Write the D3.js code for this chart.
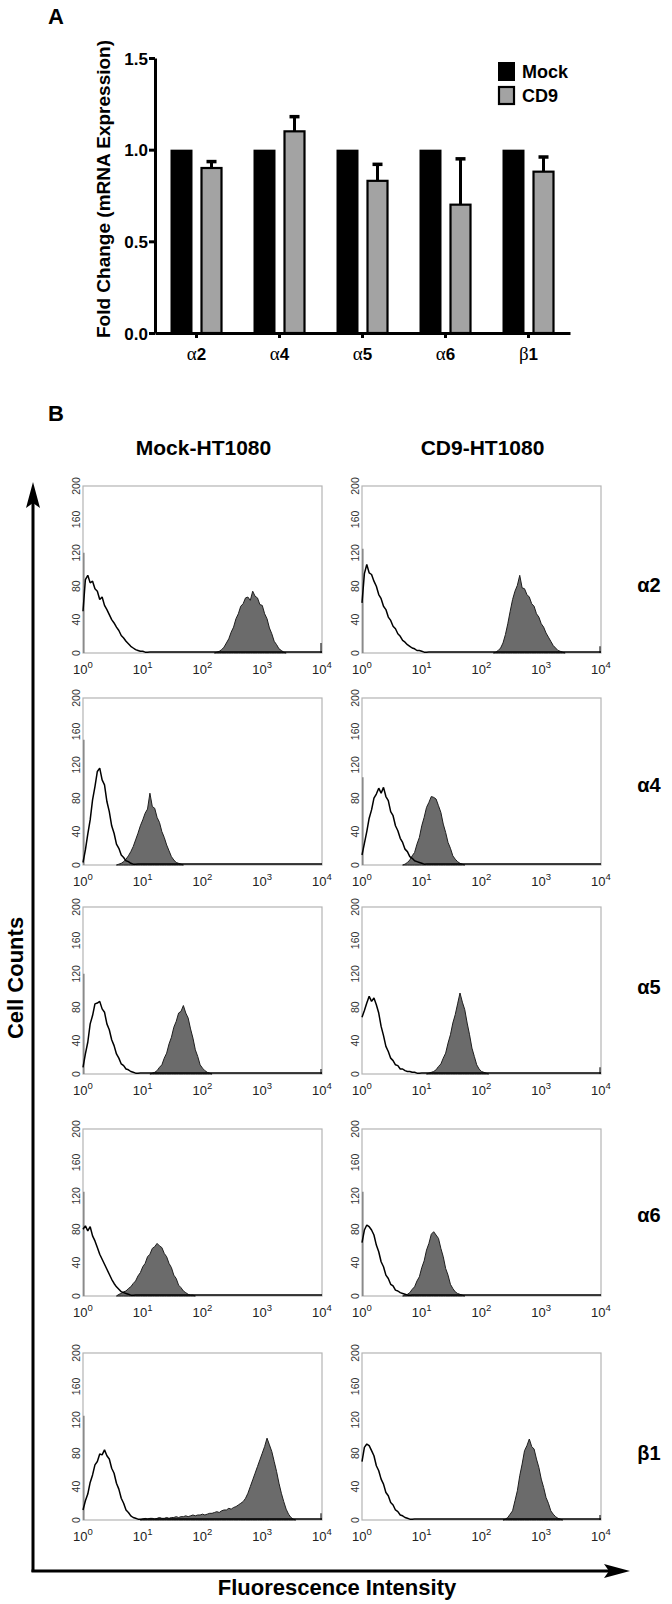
<!DOCTYPE html>
<html><head><meta charset="utf-8">
<script src="https://cdn.jsdelivr.net/npm/d3@7/dist/d3.min.js"></script>
<style>body{margin:0;background:#fff}svg{display:block}</style>
</head><body>
<svg id="c" width="672" height="1604"></svg>
<script>
// ---------------- Panel A data ----------------
const genes = ["α2", "α4", "α5", "α6", "β1"];
const seriesNames = ["Mock", "CD9"];
const mockFold = [1.0, 1.0, 1.0, 1.0, 1.0];
const cd9Fold = [0.90, 1.10, 0.83, 0.70, 0.88];
const cd9Err = [0.035, 0.08, 0.09, 0.25, 0.08];
const foldTicks = [0, 0.5, 1.0, 1.5];

// ---------------- Panel B data ----------------
const columns = ["Mock-HT1080", "CD9-HT1080"];
const countTicks = [0, 40, 80, 120, 160, 200];
const decadeTicks = [1, 10, 100, 1000, 10000];
const channelStep = 0.04; // log10 width of one histogram channel

// isotype control (open) histograms, counts from 10^0 upward
const mockOpenA2 = [50, 88, 93, 84, 86, 77, 74, 64, 67, 57, 52, 46, 40, 36, 31, 27, 21, 18, 14, 11, 8, 6, 4, 3, 2, 2, 1, 1];
const mockOpenA4 = [3, 18, 37, 54, 78, 94, 112, 116, 102, 96, 76, 64, 47, 38, 25, 20, 12, 9, 5, 4, 2, 1, 1];
const mockOpenA5 = [8, 24, 38, 60, 70, 84, 85, 87, 78, 74, 60, 53, 41, 34, 24, 19, 12, 10, 6, 5, 3, 2, 1, 1];
const mockOpenA6 = [80, 84, 78, 83, 72, 66, 58, 50, 44, 38, 32, 26, 20, 15, 11, 8, 5, 4, 3, 2, 1, 1];
const mockOpenB1 = [12, 23, 31, 45, 54, 66, 70, 79, 78, 84, 77, 73, 62, 56, 44, 37, 26, 20, 12, 9, 5, 3, 2, 1, 1];
const cd9OpenA2 = [60, 95, 106, 96, 94, 86, 80, 70, 65, 56, 52, 43, 39, 32, 29, 23, 20, 15, 13, 10, 8, 6, 5, 3, 3, 2, 1, 1];
const cd9OpenA4 = [12, 26, 40, 56, 66, 80, 85, 92, 86, 93, 82, 77, 64, 59, 47, 41, 32, 27, 19, 16, 10, 8, 5, 4, 3, 2, 1];
const cd9OpenA5 = [68, 76, 85, 93, 87, 91, 83, 73, 57, 46, 33, 27, 19, 16, 11, 10, 6, 6, 4, 3, 3, 2, 2, 1, 1];
const cd9OpenA6 = [64, 79, 85, 83, 79, 73, 61, 53, 41, 35, 25, 21, 14, 12, 7, 6, 4, 3, 2, 1, 1];
const cd9OpenB1 = [70, 87, 91, 89, 83, 77, 65, 59, 49, 43, 33, 29, 21, 18, 12, 10, 6, 5, 3, 2, 1, 1];

// integrin-stained (filled) histograms, counts from fillStart upward
const mockFillA2 = [1, 2, 4, 7, 12, 17, 25, 31, 41, 47, 56, 59, 66, 67, 63, 74, 68, 66, 58, 57, 47, 41, 30, 23, 14, 10, 5, 3, 1];
const mockFillA4 = [1, 2, 4, 7, 11, 16, 22, 30, 38, 47, 54, 62, 67, 86, 70, 68, 57, 51, 40, 33, 24, 17, 10, 6, 3, 2, 1];
const mockFillA5 = [1, 2, 4, 8, 11, 19, 25, 36, 44, 56, 63, 73, 75, 82, 73, 67, 54, 43, 29, 21, 11, 7, 4, 2, 1];
const mockFillA6 = [2, 3, 5, 6, 9, 11, 15, 18, 24, 28, 35, 39, 47, 50, 57, 59, 63, 60, 58, 51, 47, 39, 34, 25, 21, 13, 10, 6, 4, 2, 1, 1];
const mockFillB1 = [1, 2, 1, 2, 2, 1, 2, 3, 2, 2, 3, 2, 3, 3, 4, 3, 4, 4, 5, 4, 5, 6, 5, 6, 6,
  7, 6, 7, 8, 8, 9, 10, 9, 11, 12, 12, 14, 13, 15, 16, 18, 20,
  22, 26, 32, 40, 48, 56, 64, 72, 80, 88, 98, 90, 82,
  70, 58, 44, 32, 22, 13, 7, 3, 1];
const cd9FillA2 = [1, 3, 6, 12, 22, 35, 50, 64, 74, 81, 93, 78, 77, 70, 67, 59, 56, 47, 43, 35, 31, 24, 19, 14, 9, 6, 3, 2, 1];
const cd9FillA4 = [1, 3, 6, 11, 15, 25, 33, 47, 57, 69, 75, 82, 81, 79, 71, 63, 49, 39, 27, 20, 11, 7, 4, 2, 1];
const cd9FillA5 = [1, 2, 3, 5, 9, 12, 19, 25, 37, 47, 61, 71, 84, 97, 86, 77, 61, 47, 31, 21, 11, 6, 3, 2, 1];
const cd9FillA6 = [1, 2, 4, 8, 11, 18, 23, 34, 42, 55, 63, 74, 77, 73, 69, 57, 47, 33, 25, 14, 9, 5, 3, 2, 1];
const cd9FillB1 = [1, 3, 7, 11, 23, 35, 53, 67, 83, 89, 97, 88, 85, 73, 63, 49, 39, 27, 20, 11, 7, 4, 2, 1];

const fillStartMock = [2.24, 0.60, 1.16, 0.60, 1.00];   // log10 of first channel
const fillStartCD9 = [2.24, 0.72, 1.12, 0.72, 2.40];
const firstChannelMock = [120, 150, 120, 125, 125];      // off-scale pile-up at 10^0
const firstChannelCD9 = [125, 105, 0, 125, 0];
const lastChannelMock = [12, 0, 6, 0, 8];                // off-scale pile-up at 10^4
const lastChannelCD9 = [8, 0, 8, 0, 6];

const mockOpen = [mockOpenA2, mockOpenA4, mockOpenA5, mockOpenA6, mockOpenB1];
const cd9Open = [cd9OpenA2, cd9OpenA4, cd9OpenA5, cd9OpenA6, cd9OpenB1];
const mockFill = [mockFillA2, mockFillA4, mockFillA5, mockFillA6, mockFillB1];
const cd9Fill = [cd9FillA2, cd9FillA4, cd9FillA5, cd9FillA6, cd9FillB1];

// ---------------- drawing ----------------
const svg = d3.select("#c");
const SANS = "'Liberation Sans', Arial, Helvetica, sans-serif";
const SERIF = "'Liberation Serif', 'Times New Roman', serif";

// ===== Panel A =====
svg.append("text").attr("x", 48).attr("y", 24).attr("font-family", SANS)
  .attr("font-weight", "bold").attr("font-size", 22).text("A");

const yA = d3.scaleLinear().domain([0, 1.5]).range([333, 58]);
const xA = d3.scaleBand().domain(genes).range([155, 570]);
const xIn = d3.scaleBand().domain(seriesNames).range([-26, 26]).paddingInner(0.267);
const colorA = d3.scaleOrdinal().domain(seriesNames).range(["#000000", "#a3a3a3"]);

const barRows = genes.map((g, i) => ({ gene: g, vals: [
  { s: "Mock", v: mockFold[i], e: 0 },
  { s: "CD9", v: cd9Fold[i], e: cd9Err[i] }] }));

const gA = svg.append("g");
const grp = gA.selectAll("g.grp").data(barRows).join("g")
  .attr("transform", d => `translate(${xA(d.gene) + xA.bandwidth() / 2},0)`);

grp.each(function (d) {
  const c = d.vals[1];
  const cx = xIn("CD9") + xIn.bandwidth() / 2;
  const g = d3.select(this);
  g.append("line").attr("x1", cx).attr("x2", cx).attr("y1", yA(c.v)).attr("y2", yA(c.v + c.e))
    .attr("stroke", "#000").attr("stroke-width", 3);
  g.append("line").attr("x1", cx - 5).attr("x2", cx + 5).attr("y1", yA(c.v + c.e)).attr("y2", yA(c.v + c.e))
    .attr("stroke", "#000").attr("stroke-width", 3.5);
});
grp.selectAll("rect").data(d => d.vals).join("rect")
  .attr("x", d => xIn(d.s) + (d.s === "CD9" ? 1 : 0))
  .attr("width", d => xIn.bandwidth() - (d.s === "CD9" ? 2 : 0))
  .attr("y", d => yA(d.v))
  .attr("height", d => yA(0) - yA(d.v))
  .attr("fill", d => colorA(d.s))
  .attr("stroke", d => d.s === "CD9" ? "#000" : "none")
  .attr("stroke-width", 2.2);

const axY = gA.append("g").attr("transform", "translate(155,0)")
  .call(d3.axisLeft(yA).tickValues(foldTicks).tickFormat(d3.format(".1f")).tickSize(6).tickSizeOuter(0));
axY.select(".domain").attr("stroke-width", 3);
axY.selectAll(".tick line").attr("stroke-width", 3);
axY.selectAll(".tick text").attr("font-family", SANS).attr("font-weight", "bold").attr("font-size", 17).attr("x", -7).attr("dy", "0.36em");

const axX = gA.append("g").attr("transform", "translate(0,333)")
  .call(d3.axisBottom(xA).tickSize(5).tickSizeOuter(0));
axX.select(".domain").attr("stroke-width", 3);
axX.selectAll(".tick line").attr("stroke-width", 3);
axX.selectAll(".tick text").remove();
axX.selectAll(".tick").append("text").attr("y", 27).attr("text-anchor", "middle").attr("fill", "#000")
  .each(function (d) {
    const t = d3.select(this);
    t.append("tspan").attr("font-family", SERIF).attr("font-size", 19).text(d.charAt(0));
    t.append("tspan").attr("font-family", SANS).attr("font-weight", "bold").attr("font-size", 17).text(d.slice(1));
  });

svg.append("text").attr("transform", "translate(110,189) rotate(-90)").attr("text-anchor", "middle")
  .attr("font-family", SANS).attr("font-weight", "bold").attr("font-size", 19)
  .text("Fold Change (mRNA Expression)");

const leg = svg.append("g").attr("transform", "translate(498,62)");
seriesNames.forEach((s, i) => {
  const r = leg.append("rect").attr("y", i * 24).attr("width", 17).attr("height", 19).attr("fill", colorA(s));
  if (s === "CD9") r.attr("x", 1).attr("y", i * 24 + 1).attr("width", 15).attr("height", 17).attr("stroke", "#000").attr("stroke-width", 2.2);
  leg.append("text").attr("x", 24).attr("y", i * 24 + 16).attr("font-family", SANS).attr("font-weight", "bold")
    .attr("font-size", 18).text(s);
});

// ===== Panel B =====
svg.append("text").attr("x", 48).attr("y", 421).attr("font-family", SANS)
  .attr("font-weight", "bold").attr("font-size", 22).text("B");

const colLeft = [83, 362];
const plotW = 239;
const rowTop = [486, 698, 907, 1129, 1353];
const plotH = 167;
const rowLabelY = [592, 792, 994, 1222, 1460];

columns.forEach((c, j) => {
  svg.append("text").attr("x", colLeft[j] + plotW / 2 + 1).attr("y", 455).attr("text-anchor", "middle")
    .attr("font-family", SANS).attr("font-weight", "bold").attr("font-size", 21).text(c);
});

const panels = [];
genes.forEach((g, i) => {
  panels.push({ row: i, col: 0, open: mockOpen[i], fill: mockFill[i], fs: fillStartMock[i], first: firstChannelMock[i], last: lastChannelMock[i] });
  panels.push({ row: i, col: 1, open: cd9Open[i], fill: cd9Fill[i], fs: fillStartCD9[i], first: firstChannelCD9[i], last: lastChannelCD9[i] });
});

panels.forEach(p => {
  const L = colLeft[p.col], T = rowTop[p.row], B = T + plotH;
  const x = d3.scaleLog().domain([1, 10000]).range([L, L + plotW]);
  const y = d3.scaleLinear().domain([0, 200]).range([B, T]);
  const g = svg.append("g");

  g.append("rect").attr("x", L).attr("y", T).attr("width", plotW).attr("height", plotH)
    .attr("fill", "none").attr("stroke", "#b4b4b4").attr("stroke-width", 1.2);

  const fPts = p.fill.map((c, k) => [Math.pow(10, p.fs + k * channelStep), c]);
  const fAll = [[Math.pow(10, p.fs - channelStep), 0], ...fPts, [Math.pow(10, p.fs + p.fill.length * channelStep), 0]];
  g.append("path").datum(fAll)
    .attr("d", d3.area().x(d => x(d[0])).y0(B).y1(d => y(d[1])))
    .attr("fill", "#6b6b6b").attr("stroke", "#1e1e1e").attr("stroke-width", 1).attr("stroke-linejoin", "bevel");

  if (p.first > 0) g.append("line").attr("x1", L + 0.8).attr("x2", L + 0.8).attr("y1", B).attr("y2", y(p.first))
    .attr("stroke", "#8a8a8a").attr("stroke-width", 1.6);
  if (p.last > 0) g.append("line").attr("x1", L + plotW - 1).attr("x2", L + plotW - 1).attr("y1", B).attr("y2", y(p.last))
    .attr("stroke", "#222").attr("stroke-width", 1.2);

  const oPts = p.open.map((c, k) => [Math.pow(10, k * channelStep), c]);
  const oAll = [...oPts, [Math.pow(10, p.open.length * channelStep), 0], [10000, 0]];
  g.append("path").datum(oAll)
    .attr("d", d3.line().x(d => x(d[0])).y(d => y(d[1]) - (d[1] === 0 ? 1 : 0)))
    .attr("fill", "none").attr("stroke", "#000").attr("stroke-width", 1.5).attr("stroke-linejoin", "bevel");

  g.selectAll("text.yt").data(countTicks).join("text").attr("class", "yt")
    .attr("transform", d => `translate(${L - 3},${y(d)}) rotate(-90)`)
    .attr("text-anchor", "middle").attr("font-family", SANS).attr("font-size", 10.5).attr("fill", "#333")
    .text(d => d);

  g.selectAll("text.xt").data(decadeTicks).join("text").attr("class", "xt")
    .attr("x", d => x(d)).attr("y", B + 21).attr("text-anchor", "middle")
    .attr("font-family", SANS).attr("font-size", 13).attr("fill", "#222")
    .each(function (d) {
      const t = d3.select(this);
      t.append("tspan").text("10");
      t.append("tspan").attr("font-size", 9.5).attr("dy", -6).text(Math.round(Math.log10(d)));
    });
});

genes.forEach((g, i) => {
  svg.append("text").attr("x", 649).attr("y", rowLabelY[i]).attr("text-anchor", "middle")
    .attr("font-family", SANS).attr("font-weight", "bold").attr("font-size", 20).text(g);
});

svg.append("line").attr("x1", 33).attr("x2", 33).attr("y1", 1572).attr("y2", 500).attr("stroke", "#000").attr("stroke-width", 3);
svg.append("path").attr("d", "M33,482 L26,508 L33,503 L40,508 Z").attr("fill", "#000");
svg.append("line").attr("x1", 31.5).attr("x2", 612).attr("y1", 1571).attr("y2", 1571).attr("stroke", "#000").attr("stroke-width", 3);
svg.append("path").attr("d", "M630,1571 L604,1564 L609,1571 L604,1578 Z").attr("fill", "#000");

svg.append("text").attr("transform", "translate(23,978) rotate(-90)").attr("text-anchor", "middle")
  .attr("font-family", SANS).attr("font-weight", "bold").attr("font-size", 22).text("Cell Counts");
svg.append("text").attr("x", 337).attr("y", 1595).attr("text-anchor", "middle")
  .attr("font-family", SANS).attr("font-weight", "bold").attr("font-size", 22).text("Fluorescence Intensity");
</script>
</body></html>
